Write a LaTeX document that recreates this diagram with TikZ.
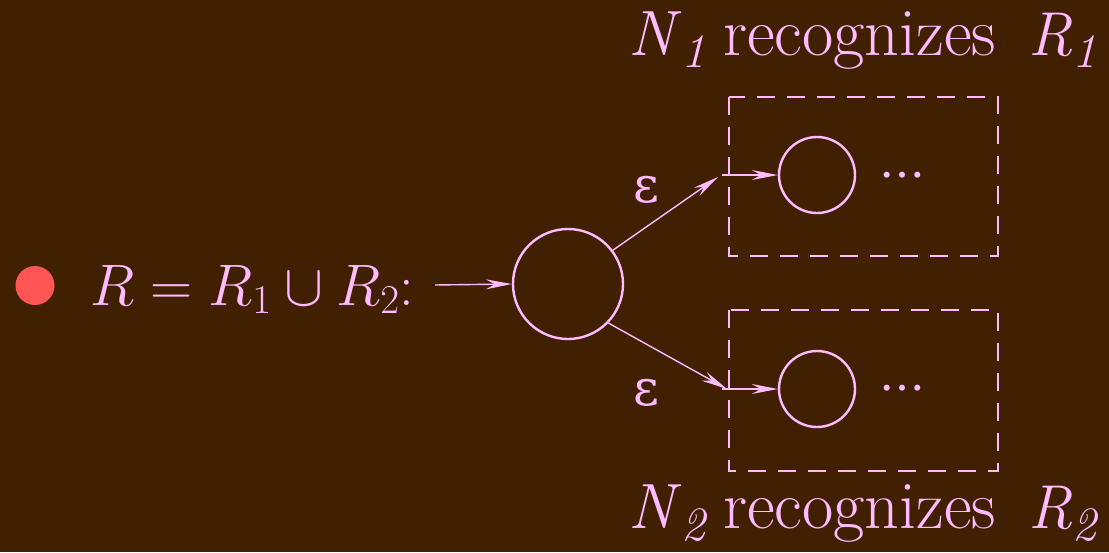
\RequirePackage{fix-cm}
\documentclass[tikz,border=0pt]{standalone}
\usepackage{fontspec}
\newfontfamily\grk{DejaVu Serif}
\usetikzlibrary{arrows.meta}
\definecolor{bgc}{HTML}{402000}
\definecolor{pk}{HTML}{FFBBFF}
\definecolor{dotred}{HTML}{FF5555}
\tikzset{
  st/.style={circle,draw=pk,line width=2.4pt,inner sep=0pt},
  ar/.style={draw=pk,line width=1.4pt,-{Stealth[length=26pt,width=10pt,inset=9pt]}},
  dbox/.style={draw=pk,line width=2.2pt,dash pattern=on 18pt off 12pt},
  lab/.style={text=pk,inner sep=0pt,anchor=base west},
  dots/.style={text=pk,inner sep=0pt,anchor=center,font=\grk\fontsize{46}{50}\selectfont},
}
\newcommand{\sublbl}[1]{\raisebox{-0.2em}{\fontsize{48}{60}\selectfont\textit{#1}}}
\newcommand{\recline}[1]{\makebox[95pt][l]{\fontsize{64}{72}\selectfont\textit{N}\sublbl{#1}}\makebox[305pt][l]{recognizes}{\fontsize{62}{72}\selectfont\textit{R}\sublbl{#1}}}
\begin{document}
\begin{tikzpicture}[x=1pt,y=-1pt]
\useasboundingbox[fill=bgc] (0,0) rectangle (1109,552);
\fill[dotred] (35,285.5) circle (19.5);
\node[lab] (lbl) at (90,305) {\fontsize{58.5}{66}\selectfont $R=R_1\cup R_2{:}$};
\coordinate (s0) at (435,285);
\node[st,minimum size=110pt] (big) at (568,284) {};
\draw[ar] (s0) -- (big.west);
% upper
\draw[dbox] (729,97) rectangle (998,256);
\node[st,minimum size=76pt] (s1) at (817,175) {};
\coordinate (e1) at (722,175);
\draw[ar] (e1) -- (s1.west);
\coordinate (d1) at (718,177);
\draw[ar] (big.37) -- (d1);
\node[lab] (eps1) at (633,202) {\grk\fontsize{50}{60}\selectfont ε};
\node[dots] (dots1) at (902,175) {…};
\node[lab] (t1) at (628,55) {\fontsize{68}{72}\selectfont\recline{1}};
% lower
\draw[dbox] (729,310) rectangle (998,471);
\node[st,minimum size=76pt] (s2) at (817,389) {};
\coordinate (e2) at (722,389);
\draw[ar] (e2) -- (s2.west);
\coordinate (d2) at (727,389);
\draw[ar] (big.-44) -- (d2);
\node[lab] (eps2) at (633,405) {\grk\fontsize{50}{60}\selectfont ε};
\node[dots] (dots2) at (902,388) {…};
\node[lab] (t2) at (628,528) {\fontsize{68}{72}\selectfont\recline{2}};
\end{tikzpicture}
\end{document}
